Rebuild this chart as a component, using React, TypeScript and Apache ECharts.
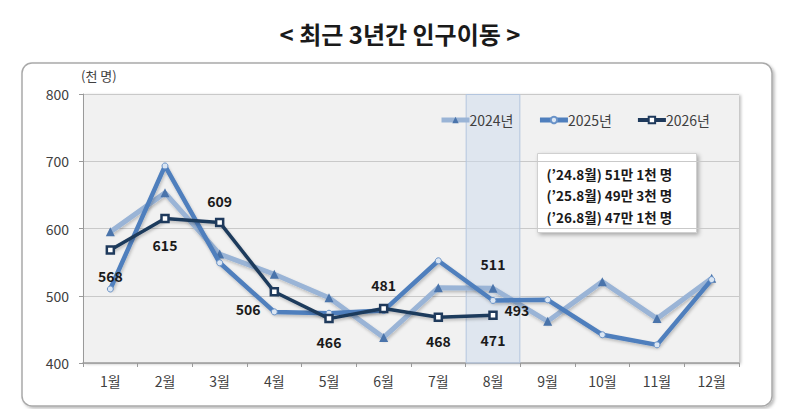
import React, { useEffect, useRef } from "react";
import * as echarts from "echarts";

const months = ["1월", "2월", "3월", "4월", "5월", "6월", "7월", "8월", "9월", "10월", "11월", "12월"];
const y2024 = [595, 653, 562, 532, 497, 438, 512, 511, 462, 521, 466, 526];
const y2025 = [510, 693, 549, 476, 474, 478, 552, 493, 494, 442, 427, 524];
const y2026 = [568, 615, 609, 506, 466, 481, 468, 471, null, null, null, null];
const seriesNames = ["2024년", "2025년", "2026년"];
const highlightMonth = "8월";
const yTicks = { min: 400, max: 800, interval: 100 };
const noteLines = ["(’24.8월) 51만 1천 명", "(’25.8월) 49만 3천 명", "(’26.8월) 47만 1천 명"];
const chartTitle = "< 최근 3년간 인구이동 >";
const unitLabel = "(천 명)";

const FONT = "'Noto Sans CJK KR', 'Noto Sans', sans-serif";

export default function App() {
  const ref = useRef<HTMLDivElement>(null);
  useEffect(() => {
    if (!ref.current) return;
    document.body.style.margin = "0";
    const chart = echarts.init(ref.current, undefined, { renderer: "svg" });

    const labelBase = { show: true, fontFamily: FONT, fontWeight: "bold", fontSize: 14, color: "#1a1a1a" };
    const place2026: any[] = [
      { position: "bottom", distance: 14 },
      { position: "bottom", distance: 15 },
      { position: "top", distance: 10 },
      { position: "left", distance: 9, offset: [0, 17] },
      { position: "bottom", distance: 12 },
      { position: "top", distance: 12 },
      { position: "bottom", distance: 12 },
      { position: "bottom", distance: 13 },
    ];
    const hiIdx = months.indexOf(highlightMonth);

    const d2026 = y2026.map((v, i) =>
      v == null ? null : { value: v, label: { ...labelBase, ...(place2026[i] || {}) } }
    );
    const d2024 = y2024.map((v, i) =>
      i === hiIdx ? { value: v, label: { ...labelBase, position: "top", distance: 13 } } : v
    );
    const d2025 = y2025.map((v, i) =>
      i === hiIdx ? { value: v, label: { ...labelBase, position: "right", distance: 8, offset: [0, 10] } } : v
    );
    const band = months.map((m) => (m === highlightMonth ? yTicks.max : null));

    const shadow = { shadowColor: "rgba(0,0,0,0.22)", shadowBlur: 3, shadowOffsetX: 1, shadowOffsetY: 2 };

    chart.setOption({
      animation: false,
      backgroundColor: "#ffffff",
      textStyle: { fontFamily: FONT },
      graphic: [
        {
          type: "rect",
          z: -10,
          shape: { x: 22, y: 63, width: 750, height: 343, r: 10 },
          style: {
            fill: "#ffffff",
            stroke: "#a9a9a9",
            lineWidth: 1.5,
            shadowColor: "rgba(0,0,0,0.25)",
            shadowBlur: 3,
            shadowOffsetX: 2,
            shadowOffsetY: 2,
          },
        },
        {
          type: "text",
          left: "center",
          top: 21,
          style: {
            text: chartTitle,
            font: `bold 24px ${FONT}`,
            fill: "#1a1a1a",
          },
        },
        {
          type: "group",
          left: 537,
          top: 153,
          z: 100,
          children: [
            {
              type: "rect",
              shape: { x: 0, y: 0, width: 159, height: 79 },
              style: {
                fill: "#ffffff",
                stroke: "#d0d0d0",
                lineWidth: 1,
                shadowColor: "rgba(0,0,0,0.3)",
                shadowBlur: 4,
                shadowOffsetX: 2,
                shadowOffsetY: 2,
              },
            },
            ...noteLines.map((t, i) => ({
              type: "text",
              x: 9,
              y: 20 + i * 21.5,
              style: {
                text: t,
                font: `bold 13.5px ${FONT}`,
                fill: "#1a1a1a",
                textVerticalAlign: "middle",
              },
            })),
          ],
        },
      ],
      grid: {
        left: 83,
        right: 61,
        top: 94,
        bottom: 46,
        show: true,
        backgroundColor: "#f1f1f1",
        borderWidth: 0,
        shadowColor: "rgba(0,0,0,0.25)",
        shadowBlur: 3,
        shadowOffsetX: 2,
        shadowOffsetY: 1,
      },
      legend: {
        data: [
          { name: seriesNames[0], lineStyle: { width: 5 } },
          { name: seriesNames[1], lineStyle: { width: 5 } },
          { name: seriesNames[2], lineStyle: { width: 4 } },
        ],
        left: 434,
        top: 108,
        itemGap: 24,
        itemWidth: 28,
        itemHeight: 8,
        textStyle: { fontFamily: FONT, fontSize: 14, color: "#404040", padding: [0, 0, 0, -5] },
      },
      xAxis: {
        type: "category",
        data: months,
        boundaryGap: true,
        axisLine: { lineStyle: { color: "#9a9a9a", width: 1.5 } },
        axisTick: { show: true, length: 4, lineStyle: { color: "#9a9a9a" } },
        axisLabel: { fontFamily: FONT, fontSize: 14, color: "#404040", margin: 11 },
        splitLine: { show: false },
      },
      yAxis: {
        type: "value",
        min: yTicks.min,
        max: yTicks.max,
        interval: yTicks.interval,
        name: unitLabel,
        nameLocation: "end",
        nameGap: 12,
        nameTextStyle: { fontFamily: FONT, fontSize: 13, color: "#404040", align: "left", padding: [0, 0, 0, -2] },
        axisLine: { show: true, lineStyle: { color: "#9a9a9a", width: 1 } },
        axisTick: { show: true, length: 4, lineStyle: { color: "#9a9a9a" } },
        axisLabel: { fontFamily: FONT, fontSize: 14, color: "#404040", margin: 14 },
        splitLine: { lineStyle: { color: "#c9c9c9", width: 1 } },
      },
      series: [
        {
          name: "band",
          type: "bar",
          data: band,
          barWidth: "100%",
          silent: true,
          z: 1,
          itemStyle: { color: "rgba(205,219,238,0.5)", borderColor: "#b3c5de", borderWidth: 1 },
        },
        {
          name: seriesNames[0],
          type: "line",
          data: d2024,
          z: 3,
          symbol: "triangle",
          symbolSize: 9,
          showAllSymbol: true,
          lineStyle: { color: "#9ab4d6", width: 5, ...shadow },
          itemStyle: { color: "#4a74ab", borderWidth: 0 },
        },
        {
          name: seriesNames[1],
          type: "line",
          data: d2025,
          z: 4,
          symbol: "circle",
          symbolSize: 6,
          showAllSymbol: true,
          lineStyle: { color: "#4f7fbd", width: 4.5, ...shadow },
          itemStyle: { color: "#dbe6f3", borderColor: "#6a93c8", borderWidth: 1 },
        },
        {
          name: seriesNames[2],
          type: "line",
          data: d2026,
          z: 5,
          symbol: "rect",
          symbolSize: 7,
          showAllSymbol: true,
          lineStyle: { color: "#1f3a5c", width: 3.5, ...shadow },
          itemStyle: { color: "#ffffff", borderColor: "#1f3a5c", borderWidth: 2.5 },
        },
      ],
    });
    return () => chart.dispose();
  }, []);
  return <div ref={ref} style={{ width: 800, height: 409 }} />;
}
